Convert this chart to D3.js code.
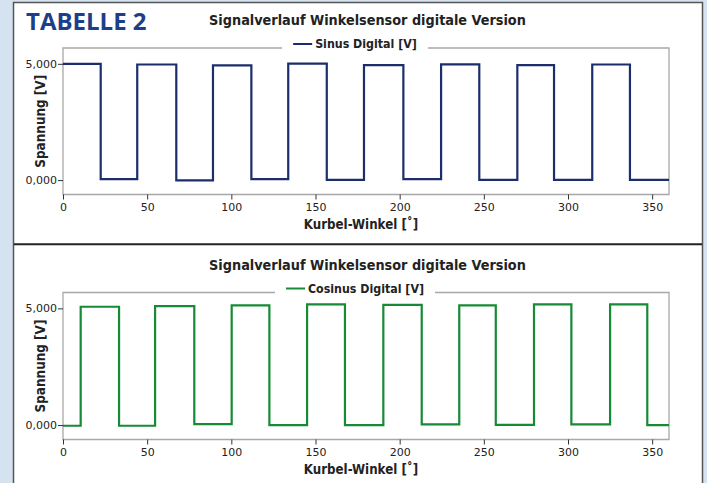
<!DOCTYPE html>
<html>
<head>
<meta charset="utf-8">
<script src="https://cdn.jsdelivr.net/npm/d3@7"></script>
<style>
  html, body { margin: 0; padding: 0; background: #d5e3f1; }
  svg { display: block; }
</style>
</head>
<body>
<div id="chart"></div>
<script>
// Achsen
const xTicks = [0, 50, 100, 150, 200, 250, 300, 350];
const yTicks = [0, 5];

// Sinus Digital: Umschaltwinkel [°] und Spannung [V] (Stufenverlauf)
const sinusAngles = [0, 22.4, 44.1, 67.3, 89.1, 111.9, 133.8, 156.7, 178.8, 202.2, 224.6, 247.3, 269.9, 291.7, 314.4, 336.8, 360];
const sinusValues = [5.00, 0.04, 4.97, -0.01, 4.93, 0.04, 5.01, 0.01, 4.94, 0.04, 4.98, 0.01, 4.94, 0.01, 4.97, 0.01, 0.01];

// Cosinus Digital
const cosinusAngles = [0, 10.5, 33.3, 54.7, 78.0, 100.2, 122.6, 145.0, 167.5, 190.3, 213.1, 235.4, 257.1, 279.8, 302.0, 325.0, 347.1, 360];
const cosinusValues = [-0.03, 5.07, -0.03, 5.10, 0.04, 5.13, 0.00, 5.17, 0.00, 5.15, 0.03, 5.13, 0.01, 5.17, 0.03, 5.17, 0.00, 0.00];

const W = 707, H = 483;
const svg = d3.select('#chart').append('svg')
  .attr('width', W)
  .attr('height', H);

// Hintergrund-Panel
svg.append('rect')
  .attr('x', 13.5).attr('y', 2.5)
  .attr('width', 689).attr('height', H + 10)
  .attr('fill', '#fff')
  .attr('stroke', '#555')
  .attr('stroke-width', 1.5);

svg.append('text')
  .attr('x', 26).attr('y', 30)
  .style('font-family', '"Open Sans", sans-serif')
  .style('font-weight', 'bold')
  .style('font-size', '24px')
  .attr('fill', '#1d3f8a')
  .text('TABELLE 2');

// Trennlinie
svg.append('line')
  .attr('x1', 14).attr('x2', 702)
  .attr('y1', 244.3).attr('y2', 244.3)
  .attr('stroke', '#222')
  .attr('stroke-width', 2);

const x = d3.scaleLinear().domain([0, 360]).range([63, 669]);

function drawChart(top, bottom, angles, values, color, seriesName) {
  const y = d3.scaleLinear().domain([-0.62, 5.68]).range([bottom, top]);
  const g = svg.append('g');
  const font = '"DejaVu Sans", sans-serif';
  const fontBold = '"DejaVu Sans Condensed", "DejaVu Sans", sans-serif';

  // Titel
  g.append('text')
    .attr('x', 367.5).attr('y', top - 23)
    .attr('text-anchor', 'middle')
    .style('font-family', fontBold)
    .style('font-weight', 'bold')
    .style('font-size', '14.3px')
    .attr('fill', '#222')
    .text('Signalverlauf Winkelsensor digitale Version');

  // Legende
  const legend = g.append('g');
  const legText = legend.append('text')
    .attr('x', 22).attr('y', top)
    .style('font-family', fontBold)
    .style('font-weight', 'bold')
    .style('font-size', '12.3px')
    .attr('fill', '#222')
    .text(seriesName);
  const tw = legText.node().getComputedTextLength();
  legend.append('line')
    .attr('x1', 0).attr('x2', 19)
    .attr('y1', top - 4).attr('y2', top - 4)
    .attr('stroke', color).attr('stroke-width', 2);
  const legW = 22 + tw;
  const legX = 355 - legW / 2;
  legend.attr('transform', `translate(${legX},0)`);

  // Rahmen (oben mit Lücke für Legende)
  const frame = d3.path();
  frame.moveTo(legX - 11, top);
  frame.lineTo(x.range()[0], top);
  frame.lineTo(x.range()[0], bottom);
  frame.lineTo(x.range()[1], bottom);
  frame.lineTo(x.range()[1], top);
  frame.lineTo(legX + legW + 11, top);
  g.append('path')
    .attr('d', frame.toString())
    .attr('fill', 'none')
    .attr('stroke', '#a8a8a8')
    .attr('stroke-width', 1.3);

  // Signal
  const pts = angles.map((a, i) => [a, values[i]]);
  const line = d3.line()
    .x(d => x(d[0]))
    .y(d => y(d[1]))
    .curve(d3.curveStepAfter);
  g.append('path')
    .datum(pts)
    .attr('d', line)
    .attr('fill', 'none')
    .attr('stroke', color)
    .attr('stroke-width', 2.2);

  // x-Achse
  const xAxis = g.append('g')
    .attr('transform', `translate(0,${bottom})`)
    .call(d3.axisBottom(x).tickValues(xTicks).tickSize(5).tickPadding(4).tickFormat(d3.format('d')));
  xAxis.select('.domain').remove();
  xAxis.selectAll('line').attr('stroke', '#333');
  xAxis.selectAll('text')
    .style('font-family', font)
    .style('font-size', '11px')
    .attr('fill', '#222');

  // y-Achse
  const yAxis = g.append('g')
    .attr('transform', `translate(${x.range()[0]},0)`)
    .call(d3.axisLeft(y).tickValues(yTicks).tickSize(5).tickPadding(1)
      .tickFormat(d => d3.format('.3f')(d).replace('.', ',')));
  yAxis.select('.domain').remove();
  yAxis.selectAll('line').attr('stroke', '#333');
  yAxis.selectAll('text')
    .style('font-family', font)
    .style('font-size', '11px')
    .attr('fill', '#222');

  // Achsentitel
  g.append('text')
    .attr('x', 361).attr('y', bottom + 34)
    .attr('text-anchor', 'middle')
    .style('font-family', fontBold)
    .style('font-weight', 'bold')
    .style('font-size', '13.2px')
    .attr('fill', '#222')
    .text('Kurbel-Winkel [˚]');

  g.append('text')
    .attr('transform', `translate(44.5,${(top + bottom) / 2}) rotate(-90)`)
    .attr('text-anchor', 'middle')
    .style('font-family', fontBold)
    .style('font-weight', 'bold')
    .style('font-size', '13.4px')
    .attr('fill', '#222')
    .text('Spannung [V]');
}

drawChart(48, 194.5, sinusAngles, sinusValues, '#1c2d6c', 'Sinus Digital [V]');
drawChart(292.5, 439.5, cosinusAngles, cosinusValues, '#168a34', 'Cosinus Digital [V]');
</script>
</body>
</html>
